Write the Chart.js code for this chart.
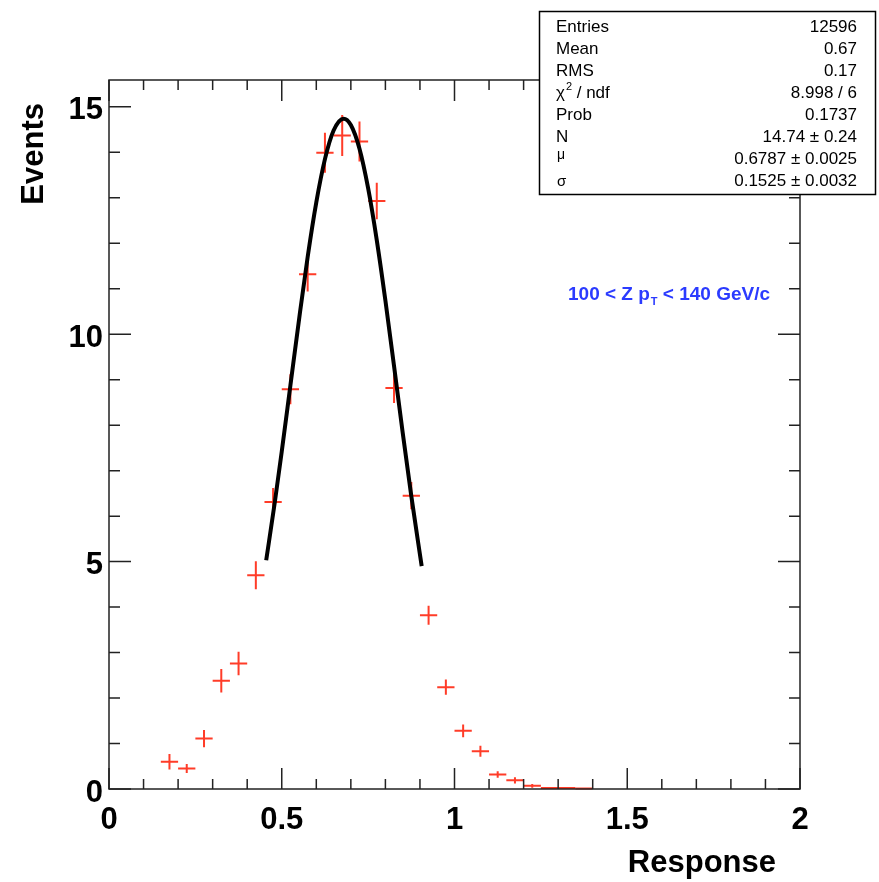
<!DOCTYPE html>
<html>
<head>
<meta charset="utf-8">
<script src="https://cdn.jsdelivr.net/npm/chart.js@4.4.1/dist/chart.umd.min.js"></script>
<style>
  html, body { margin: 0; padding: 0; background: #fff; }
</style>
</head>
<body>
<canvas id="chart" width="879" height="882"></canvas>
<script>
// histogram bins (centre), content and error
const binCenters = [0.175, 0.225, 0.275, 0.325, 0.375, 0.425, 0.475, 0.525, 0.575, 0.625, 0.675, 0.725,
  0.775, 0.825, 0.875, 0.925, 0.975, 1.025, 1.075, 1.125, 1.175, 1.225, 1.275, 1.325, 1.375];
const counts = [0.60, 0.45, 1.11, 2.38, 2.76, 4.70, 6.31, 8.79, 11.32, 13.99, 14.37, 14.24,
  12.93, 8.82, 6.45, 3.82, 2.24, 1.28, 0.83, 0.32, 0.19, 0.07, 0.02, 0.02, 0.01];
const errors = [0.17, 0.10, 0.19, 0.26, 0.26, 0.31, 0.31, 0.33, 0.38, 0.44, 0.45, 0.44,
  0.40, 0.33, 0.30, 0.21, 0.17, 0.14, 0.12, 0.07, 0.07, 0.04, 0.01, 0.01, 0.01];
const binWidth = 0.05;

// gaussian fit curve
const fitX = [0.455, 0.48, 0.50, 0.525, 0.55, 0.575, 0.60, 0.625, 0.65, 0.679, 0.70, 0.725,
  0.75, 0.775, 0.80, 0.825, 0.85, 0.875, 0.905];
const fitY = [5.03, 6.31, 7.42, 8.87, 10.32, 11.70, 12.90, 13.85, 14.48, 14.74, 14.60, 14.08,
  13.21, 12.07, 10.74, 9.30, 7.84, 6.44, 4.90];

const xTicks = [0, 0.5, 1, 1.5, 2];
const yTicks = [0, 5, 10, 15];

const statLabels = ['Entries', 'Mean', 'RMS', 'chi2', 'Prob', 'N', 'mu', 'sigma'];
const statValues = ['12596', '0.67', '0.17', '8.998 / 6', '0.1737', '14.74 \u00b1 0.24',
  '0.6787 \u00b1 0.0025', '0.1525 \u00b1 0.0032'];

const FONT = "'Liberation Sans', Arial, Helvetica, sans-serif";

const rootFrame = {
  id: 'rootFrame',
  beforeDatasetsDraw(chart) {
    const { ctx, chartArea: a, scales: { x, y } } = chart;
    ctx.save();

    // error crosses
    ctx.strokeStyle = '#ff3c28';
    ctx.lineWidth = 2;
    binCenters.forEach((c, i) => {
      const px = x.getPixelForValue(c);
      const py = y.getPixelForValue(counts[i]);
      ctx.beginPath();
      ctx.moveTo(x.getPixelForValue(c - binWidth / 2), py);
      ctx.lineTo(x.getPixelForValue(c + binWidth / 2), py);
      ctx.moveTo(px, y.getPixelForValue(Math.max(0, counts[i] - errors[i])));
      ctx.lineTo(px, y.getPixelForValue(counts[i] + errors[i]));
      ctx.stroke();
    });

    // frame and ticks on all four sides
    ctx.strokeStyle = '#222';
    ctx.lineWidth = 1.5;
    ctx.strokeRect(a.left, a.top, a.width, a.height);
    ctx.beginPath();
    for (let i = 0; i <= 20; i++) {
      const px = x.getPixelForValue(i * 0.1);
      const len = i % 5 === 0 ? 21 : 10;
      ctx.moveTo(px, a.bottom); ctx.lineTo(px, a.bottom - len);
      ctx.moveTo(px, a.top); ctx.lineTo(px, a.top + len);
    }
    for (let i = 0; i <= 15; i++) {
      const py = y.getPixelForValue(i);
      const len = i % 5 === 0 ? 22 : 11;
      ctx.moveTo(a.left, py); ctx.lineTo(a.left + len, py);
      ctx.moveTo(a.right, py); ctx.lineTo(a.right - len, py);
    }
    ctx.stroke();
    ctx.restore();
  },
  afterDraw(chart) {
    const { ctx } = chart;
    ctx.save();
    ctx.fillStyle = '#000';

    // axis titles
    ctx.font = 'bold 31px ' + FONT;
    ctx.textAlign = 'right';
    ctx.textBaseline = 'alphabetic';
    ctx.fillText('Response', 776, 872);
    ctx.save();
    ctx.translate(43, 103);
    ctx.rotate(-Math.PI / 2);
    ctx.fillText('Events', 0, 0);
    ctx.restore();

    // stats box
    ctx.fillStyle = '#fff';
    ctx.fillRect(539, 11, 336, 183);
    ctx.strokeStyle = '#000';
    ctx.lineWidth = 1.5;
    ctx.strokeRect(539.5, 11.5, 336, 183);
    ctx.fillStyle = '#000';
    statLabels.forEach((lab, i) => {
      const by = 32 + i * 22;
      ctx.textAlign = 'left';
      ctx.font = '17px ' + FONT;
      if (lab === 'chi2') {
        ctx.fillText('\u03c7', 556, by);
        ctx.font = '11px ' + FONT;
        ctx.fillText('2', 566, by - 8);
        ctx.font = '17px ' + FONT;
        ctx.fillText(' / ndf', 572, by);
      } else if (lab === 'mu') {
        ctx.font = '14px ' + FONT;
        ctx.fillText('\u03bc', 557, by - 5);
      } else if (lab === 'sigma') {
        ctx.font = '15px ' + FONT;
        ctx.fillText('\u03c3', 557, by);
      } else {
        ctx.fillText(lab, 556, by);
      }
      ctx.font = '17px ' + FONT;
      ctx.textAlign = 'right';
      ctx.fillText(statValues[i], 857, by);
    });

    // pT range label
    ctx.fillStyle = '#2b3bff';
    ctx.textAlign = 'left';
    ctx.font = 'bold 19px ' + FONT;
    let tx = 568;
    const part1 = '100 < Z p';
    ctx.fillText(part1, tx, 300);
    tx += ctx.measureText(part1).width;
    ctx.font = 'bold 11px ' + FONT;
    ctx.fillText('T', tx + 1, 305);
    tx += ctx.measureText('T').width + 1;
    ctx.font = 'bold 19px ' + FONT;
    ctx.fillText(' < 140 GeV/c', tx, 300);
    ctx.restore();
  }
};

const ctx = document.getElementById('chart').getContext('2d');
new Chart(ctx, {
  type: 'scatter',
  data: {
    datasets: [
      {
        label: 'data',
        data: binCenters.map((c, i) => ({ x: c, y: counts[i] })),
        pointRadius: 0,
        showLine: false
      },
      {
        label: 'fit',
        data: fitX.map((v, i) => ({ x: v, y: fitY[i] })),
        showLine: true,
        borderColor: '#000',
        borderWidth: 4,
        pointRadius: 0,
        cubicInterpolationMode: 'monotone',
        fill: false
      }
    ]
  },
  options: {
    responsive: false,
    animation: false,
    layout: { padding: { left: 0, top: 80, right: 79, bottom: 0 } },
    plugins: { legend: { display: false }, tooltip: { enabled: false } },
    scales: {
      x: {
        type: 'linear', min: 0, max: 2,
        grid: { display: false, drawTicks: false },
        border: { display: false },
        afterBuildTicks: s => { s.ticks = xTicks.map(v => ({ value: v })); },
        afterFit: s => { s.height = 93; },
        ticks: {
          padding: 13, color: '#000', maxRotation: 0, autoSkip: false,
          font: { family: FONT, size: 31, weight: 'bold' },
          callback: v => String(v)
        }
      },
      y: {
        type: 'linear', min: 0, max: 15.59,
        grid: { display: false, drawTicks: false },
        border: { display: false },
        afterBuildTicks: s => { s.ticks = yTicks.map(v => ({ value: v })); },
        afterFit: s => { s.width = 109; },
        ticks: {
          padding: 6, labelOffset: 4, color: '#000', autoSkip: false,
          font: { family: FONT, size: 31, weight: 'bold' },
          callback: v => String(v)
        }
      }
    }
  },
  plugins: [rootFrame]
});
</script>
</body>
</html>
